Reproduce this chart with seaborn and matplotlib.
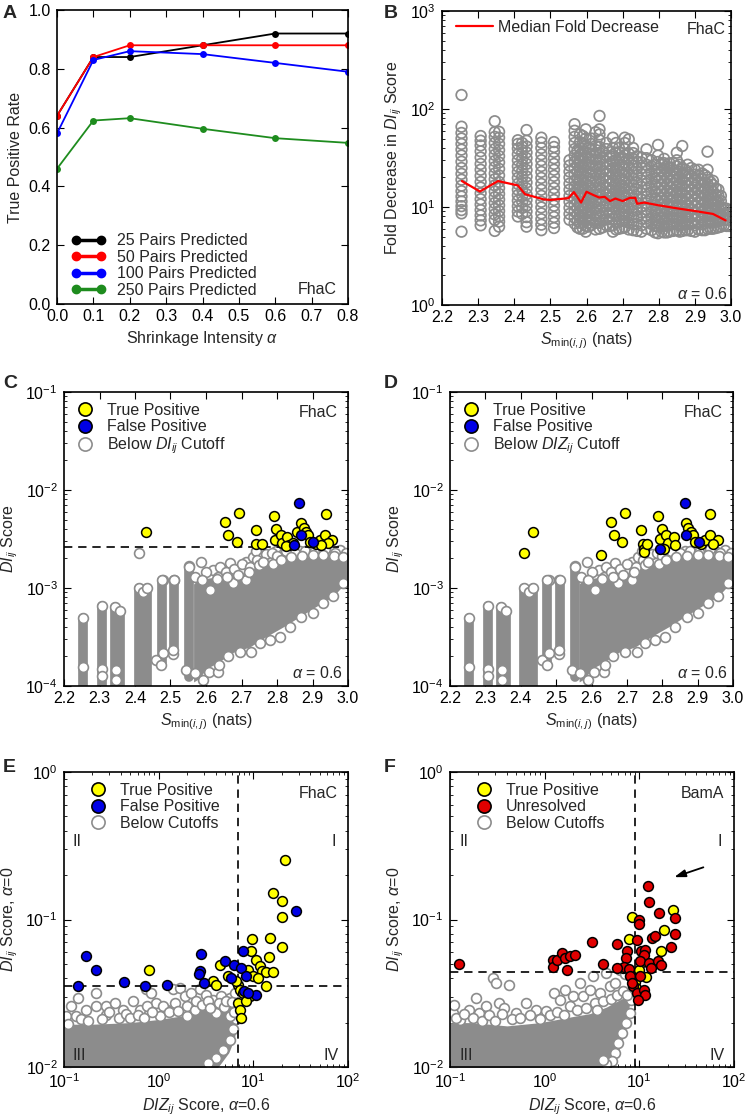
import matplotlib
matplotlib.use("Agg")
import matplotlib.pyplot as plt
import matplotlib.ticker as mticker
from matplotlib.lines import Line2D
import pandas as pd
import seaborn as sns

GRAY = "#8c8c8c"
YELLOW = "#ffff00"
BLUE = "#0000e6"
RED = "#e00000"
GREEN = "#1e8c1e"
W, H = 747, 1120

# ---- panel A: true positive rate vs shrinkage
alpha_vals = [0.0, 0.1, 0.2, 0.4, 0.6, 0.8]
tpr_25 = [0.64, 0.84, 0.84, 0.88, 0.92, 0.92]
tpr_50 = [0.64, 0.84, 0.88, 0.88, 0.88, 0.88]
tpr_100 = [0.58, 0.83, 0.86, 0.85, 0.82, 0.79]
tpr_250 = [0.46, 0.624, 0.632, 0.596, 0.564, 0.548]
a_labels = ["25 Pairs Predicted", "50 Pairs Predicted", "100 Pairs Predicted", "250 Pairs Predicted"]

# ---- panel B: fold decrease columns (one list of circles per S_min column)
b_col_x = [2.254, 2.307, 2.346, 2.358, 2.41, 2.422, 2.434, 2.475, 2.51, 2.553, 2.567, 2.582,
           2.598, 2.613, 2.636, 2.655, 2.673, 2.69, 2.706, 2.729, 2.752, 2.766, 2.78, 2.798,
           2.815, 2.83, 2.85, 2.865, 2.88, 2.9, 2.92, 2.935, 2.95, 2.965, 2.98, 2.995,
           2.575, 2.59, 2.605, 2.625, 2.645, 2.665, 2.682, 2.698, 2.717, 2.74, 2.79, 2.808,
           2.823, 2.84, 2.858, 2.873, 2.89, 2.91, 2.928, 2.943, 2.958, 2.972, 2.988]
b_col_y = [
    [5.6, 8.6, 9.3, 10.2, 11.4, 12.8, 14.5, 16.5, 19.0, 21.8, 25.0, 29.0, 33.5, 38.5, 44.0, 50.0, 57.0, 66.0, 139.0],
    [6.5, 7.3, 8.2, 9.3, 10.6, 12.0, 13.8, 15.8, 18.0, 20.8, 24.0, 27.5, 32.0, 37.0, 42.5, 47.5, 53.0],
    [5.7, 7.4, 8.4, 9.6, 11.0, 12.6, 14.4, 16.6, 19.2, 22.0, 25.5, 29.5, 34.0, 39.0, 45.0, 52.0, 58.0, 75.0],
    [6.3, 7.1, 8.0, 9.1, 10.4, 11.9, 13.6, 15.6, 18.0, 21.0, 24.5, 28.5, 33.0, 38.0, 44.0, 51.0, 58.5],
    [8.0, 9.0, 10.2, 11.6, 13.2, 15.0, 17.2, 19.8, 22.8, 26.0, 30.0, 34.5, 39.5, 44.0, 48.0],
    [8.5, 9.8, 11.3, 13.0, 15.0, 17.5, 20.3, 23.5, 27.0, 31.0, 36.0, 41.0, 45.0],
    [6.3, 7.0, 7.9, 9.0, 10.3, 11.8, 13.5, 15.5, 17.8, 20.5, 23.8, 27.5, 31.5, 36.0, 41.5, 47.5, 61.0],
    [5.8, 6.6, 7.5, 8.6, 9.9, 11.3, 13.0, 15.0, 17.2, 19.8, 22.8, 26.2, 30.0, 34.5, 40.0, 45.5, 51.0],
    [6.1, 6.9, 7.9, 9.0, 10.3, 11.8, 13.6, 15.6, 18.0, 20.8, 24.0, 27.5, 31.5, 36.5, 41.0, 46.0],
    [7.4, 8.5, 9.8, 11.3, 13.0, 15.0, 17.3, 20.0, 23.0, 26.5, 30.0],
    [6.8, 7.8, 9.0, 10.4, 12.0, 13.8, 16.0, 18.5, 21.5, 25.0, 29.0, 33.5, 39.0, 45.0, 52.0, 60.0, 70.0],
    [6.0, 6.9, 8.0, 9.2, 10.6, 12.3, 14.2, 16.4, 19.0, 22.0, 25.5, 29.5, 34.0, 39.5, 46.0, 55.0],
    [5.6, 6.4, 7.4, 8.5, 9.8, 11.3, 13.0, 15.0, 17.4, 20.2, 23.5, 27.3, 31.5, 36.5, 42.5, 50.0, 62.0],
    [6.5, 7.5, 8.7, 10.0, 11.6, 13.4, 15.5, 18.0, 21.0, 24.5, 28.5, 33.0, 38.5, 44.0, 50.0],
    [6.0, 6.9, 8.0, 9.3, 10.8, 12.5, 14.5, 16.8, 19.5, 22.6, 26.2, 30.5, 35.5, 41.0, 48.0, 55.0, 62.0, 85.0],
    [6.5, 7.5, 8.7, 10.1, 11.7, 13.6, 15.8, 18.4, 21.4, 25.0, 29.0, 33.5, 39.0, 45.0],
    [5.6, 6.5, 7.5, 8.7, 10.1, 11.7, 13.6, 15.8, 18.4, 21.4, 25.0, 29.0, 34.0, 40.0, 51.0],
    [6.0, 7.0, 8.1, 9.4, 10.9, 12.7, 14.8, 17.2, 20.0, 23.3, 27.0, 31.5, 36.0, 40.0],
    [6.2, 7.2, 8.4, 9.8, 11.4, 13.3, 15.5, 18.0, 21.0, 24.5, 28.5, 33.5, 39.0, 45.0, 51.0],
    [5.8, 6.7, 7.8, 9.1, 10.6, 12.3, 14.3, 16.7, 19.5, 22.7, 26.5, 31.0, 35.5, 40.0],
    [5.6, 6.5, 7.6, 8.8, 10.2, 11.9, 13.8, 16.0, 18.6, 21.6, 25.0, 28.5, 32.0],
    [6.0, 7.0, 8.1, 9.4, 10.9, 12.7, 14.8, 17.2, 20.0, 23.3, 27.0, 31.5, 38.8],
    [5.8, 6.7, 7.8, 9.0, 10.5, 12.2, 14.2, 16.5, 19.2, 22.3, 26.0, 30.0],
    [5.4, 6.3, 7.3, 8.5, 9.9, 11.5, 13.4, 15.6, 18.2, 21.2, 24.7, 28.8, 33.5, 43.0],
    [5.5, 6.4, 7.4, 8.6, 10.0, 11.6, 13.5, 15.7, 18.3, 21.3, 24.8, 28.0, 31.0],
    [5.6, 6.5, 7.5, 8.7, 10.1, 11.7, 13.6, 15.8, 18.4, 21.4, 24.9, 28.0],
    [5.8, 6.7, 7.8, 9.0, 10.5, 12.2, 14.2, 16.5, 19.2, 22.3, 26.0, 30.0, 35.8],
    [5.7, 6.6, 7.7, 8.9, 10.3, 12.0, 14.0, 16.2, 18.8, 21.9, 25.0, 41.9],
    [5.8, 6.7, 7.8, 9.0, 10.5, 12.2, 14.2, 16.5, 19.2, 22.3, 27.0],
    [5.6, 6.5, 7.5, 8.7, 10.1, 11.7, 13.6, 15.8, 18.4, 21.4, 24.0],
    [5.8, 6.7, 7.8, 9.0, 10.5, 12.2, 14.2, 16.5, 19.2, 22.0],
    [6.0, 7.0, 8.1, 9.4, 10.9, 12.7, 14.8, 17.2, 20.0, 24.0, 36.7],
    [6.0, 6.9, 8.0, 9.3, 10.8, 12.5, 14.5, 16.8, 18.5],
    [6.2, 7.2, 8.4, 9.7, 11.2, 13.0, 15.0],
    [6.5, 7.4, 8.5, 9.7],
    [6.4, 7.3, 8.3, 9.2],
    [6.2, 7.2, 8.4, 9.8, 11.5, 13.5, 16.0, 19.0, 22.5, 27.0, 32.0, 38.0],
    [6.0, 7.0, 8.2, 9.6, 11.3, 13.3, 15.7, 18.5, 22.0, 26.0, 31.0, 37.0, 44.0, 53.0],
    [6.3, 7.4, 8.7, 10.2, 12.0, 14.1, 16.6, 19.6, 23.1, 27.2, 32.0, 40.0],
    [5.9, 6.9, 8.1, 9.5, 11.2, 13.2, 15.6, 18.4, 21.7, 25.6, 30.2, 35.6, 42.0, 58.0],
    [6.2, 7.3, 8.6, 10.1, 11.9, 14.0, 16.5, 19.4, 22.9, 27.0, 31.8, 37.0],
    [6.4, 7.5, 8.8, 10.4, 12.2, 14.4, 17.0, 20.0, 23.6, 27.8, 33.0],
    [5.9, 6.9, 8.1, 9.5, 11.2, 13.2, 15.5, 18.3, 21.6, 25.4, 30.0, 36.0, 45.0],
    [6.1, 7.2, 8.5, 10.0, 11.8, 13.9, 16.4, 19.3, 22.8, 26.9, 32.0],
    [5.9, 6.9, 8.1, 9.5, 11.2, 13.2, 15.5, 18.3, 21.6, 25.4, 30.0, 35.0, 49.0],
    [5.7, 6.7, 7.9, 9.3, 10.9, 12.8, 15.1, 17.8, 21.0, 24.7, 29.0, 33.0],
    [5.5, 6.4, 7.5, 8.8, 10.3, 12.1, 14.2, 16.7, 19.6, 23.0, 27.0],
    [5.6, 6.6, 7.7, 9.0, 10.6, 12.4, 14.6, 17.1, 20.1, 23.6, 27.5],
    [5.5, 6.5, 7.6, 8.9, 10.4, 12.2, 14.3, 16.8, 19.7, 23.0, 26.0],
    [5.7, 6.7, 7.8, 9.2, 10.8, 12.7, 14.9, 17.5, 20.5, 24.0, 28.0],
    [5.6, 6.5, 7.6, 8.9, 10.4, 12.2, 14.3, 16.8, 19.7, 23.0, 27.0],
    [5.8, 6.8, 8.0, 9.4, 11.0, 12.9, 15.1, 17.7, 20.8, 24.0],
    [5.7, 6.7, 7.9, 9.3, 10.9, 12.8, 15.0, 17.6, 20.6, 25.0],
    [5.9, 6.9, 8.1, 9.5, 11.2, 13.1, 15.4, 18.0, 21.0, 24.0],
    [5.8, 6.8, 8.0, 9.4, 11.0, 12.9, 15.1, 17.7, 21.0],
    [6.0, 7.0, 8.2, 9.6, 11.3, 13.2, 15.5, 18.0],
    [6.1, 7.1, 8.3, 9.7, 11.4, 13.3, 15.5],
    [6.3, 7.3, 8.5, 9.9, 11.5, 13.0],
    [6.4, 7.4, 8.6, 9.6],
]
b_med_x = [2.255, 2.305, 2.355, 2.41, 2.43, 2.48, 2.5, 2.55, 2.565, 2.585, 2.6, 2.62, 2.635,
           2.65, 2.665, 2.68, 2.7, 2.72, 2.735, 2.74, 2.76, 2.8, 2.85, 2.9, 2.95, 2.985]
b_med_y = [18.4, 14.4, 18.4, 16.6, 13.5, 12.0, 11.8, 12.3, 14.2, 11.1, 14.3, 13.2, 12.5,
           12.7, 11.5, 12.2, 11.5, 12.4, 12.4, 10.8, 11.1, 10.4, 9.7, 9.1, 8.5, 7.3]

# ---- panels C/D: DI score vs S_min, gray cloud shared
cd_strip_x = [2.254, 2.307, 2.345, 2.358, 2.41, 2.422, 2.435, 2.475, 2.51, 2.553]
cd_strip_lo = [8e-5, 8e-5, 8e-5, 8e-5, 8e-5, 8e-5, 8e-5, 1.7e-4, 2.1e-4, 1.25e-4]
cd_strip_hi = [5.0e-4, 6.5e-4, 6.4e-4, 5.8e-4, 1.0e-3, 9.0e-4, 1.0e-3, 1.2e-3, 1.2e-3, 1.65e-3]
cd_dense_x = [2.565, 2.582, 2.60, 2.63, 2.676, 2.723, 2.77, 2.817, 2.864, 2.911, 2.958, 3.0]
cd_dense_lo = [1.1e-4, 1.2e-4, 1.5e-4, 1.7e-4, 2.2e-4, 2.5e-4, 3.2e-4, 4.0e-4, 5.1e-4, 6.5e-4, 8.2e-4, 1.2e-3]
cd_dense_hi = [1.1e-3, 1.25e-3, 1.25e-3, 1.3e-3, 1.4e-3, 1.6e-3, 1.8e-3, 1.95e-3, 2.05e-3, 2.1e-3, 2.1e-3, 2.0e-3]
cd_gray = [(2.479, 1.21e-3), (2.509, 1.21e-3), (2.552, 1.66e-3), (2.587, 1.84e-3), (2.620, 1.53e-3),
           (2.634, 1.31e-3), (2.667, 1.80e-3), (2.695, 1.53e-3), (2.714, 1.86e-3), (2.732, 2.09e-3),
           (2.742, 2.36e-3), (2.761, 2.09e-3), (2.779, 1.94e-3), (2.798, 2.36e-3), (2.817, 2.23e-3),
           (2.836, 2.45e-3), (2.864, 2.36e-3), (2.892, 2.50e-3), (2.920, 2.45e-3), (2.948, 2.36e-3),
           (2.977, 2.45e-3), (2.995, 2.26e-3), (2.676, 1.12e-3), (2.610, 9.6e-4), (2.714, 1.21e-3),
           (2.60, 1.45e-3), (2.64, 1.65e-3), (2.655, 1.45e-3), (2.68, 1.55e-3), (2.70, 1.75e-3),
           (2.725, 1.65e-3), (2.745, 1.95e-3), (2.75, 1.7e-3), (2.77, 2.2e-3), (2.785, 2.3e-3),
           (2.80, 2.1e-3), (2.825, 2.4e-3), (2.85, 2.3e-3), (2.878, 2.4e-3), (2.905, 2.35e-3),
           (2.935, 2.5e-3), (2.962, 2.3e-3), (2.57, 1.3e-3), (2.59, 1.2e-3), (2.63, 1.25e-3),
           (2.66, 1.3e-3), (2.69, 1.35e-3), (2.72, 1.45e-3), (2.76, 1.85e-3), (2.79, 1.75e-3),
           (2.81, 1.95e-3), (2.84, 2.05e-3), (2.87, 2.1e-3), (2.90, 2.15e-3), (2.93, 2.15e-3),
           (2.96, 2.1e-3), (2.985, 2.05e-3),
           (2.460, 1.85e-4), (2.474, 1.64e-4), (2.507, 2.1e-4), (2.545, 1.46e-4), (2.568, 1.36e-4),
           (2.591, 1.15e-4), (2.608, 1.4e-4), (2.634, 1.4e-4), (2.638, 1.64e-4), (2.662, 2.0e-4),
           (2.695, 2.24e-4), (2.728, 2.24e-4), (2.751, 2.73e-4), (2.779, 2.95e-4), (2.808, 3.19e-4),
           (2.836, 4.04e-4), (2.869, 5.11e-4), (2.902, 5.53e-4), (2.930, 7.0e-4), (2.958, 8.2e-4),
           (2.986, 1.12e-3), (2.254, 1.58e-4), (2.308, 1.5e-4), (2.308, 1.26e-4), (2.347, 1.46e-4),
           (2.347, 1.15e-4), (2.479, 2.17e-4), (2.507, 2.33e-4)]
c_gray_extra = [(2.412, 2.26e-3)]
c_cutoff = 2.63e-3
c_tp = [(2.432, 3.74e-3), (2.654, 4.70e-3), (2.663, 3.46e-3), (2.693, 5.85e-3), (2.686, 2.94e-3),
        (2.741, 3.89e-3), (2.740, 2.80e-3), (2.758, 2.80e-3), (2.792, 5.41e-3), (2.797, 3.99e-3),
        (2.794, 3.08e-3), (2.810, 3.46e-3), (2.814, 2.91e-3), (2.829, 3.35e-3), (2.833, 2.76e-3),
        (2.857, 3.77e-3), (2.869, 4.62e-3), (2.875, 4.11e-3), (2.883, 3.77e-3), (2.887, 3.46e-3),
        (2.892, 2.94e-3), (2.909, 2.80e-3), (2.920, 3.10e-3), (2.934, 3.44e-3), (2.937, 5.63e-3),
        (2.955, 3.10e-3), (2.944, 2.85e-3), (2.923, 2.76e-3), (2.845, 2.85e-3), (2.826, 2.70e-3)]
c_fp = [(2.862, 7.29e-3), (2.869, 3.46e-3), (2.847, 2.76e-3), (2.901, 2.92e-3)]
d_tp = [(2.410, 2.27e-3), (2.434, 3.74e-3), (2.627, 2.15e-3), (2.654, 4.70e-3), (2.664, 3.46e-3),
        (2.686, 2.94e-3), (2.696, 5.85e-3), (2.741, 3.89e-3), (2.745, 2.80e-3), (2.747, 2.49e-3),
        (2.747, 2.34e-3), (2.756, 2.83e-3), (2.788, 5.41e-3), (2.798, 3.99e-3), (2.795, 3.13e-3),
        (2.810, 3.46e-3), (2.817, 2.91e-3), (2.833, 3.35e-3), (2.837, 2.76e-3), (2.868, 4.62e-3),
        (2.873, 4.11e-3), (2.882, 3.77e-3), (2.887, 3.46e-3), (2.892, 2.94e-3), (2.909, 2.80e-3),
        (2.921, 3.10e-3), (2.934, 3.44e-3), (2.936, 5.63e-3), (2.957, 3.10e-3), (2.943, 2.80e-3),
        (2.804, 2.49e-3)]
d_fp = [(2.863, 7.29e-3), (2.868, 3.46e-3), (2.794, 2.49e-3), (2.903, 2.92e-3)]

# ---- panel E: FhaC DI (alpha=0) vs DIZ (alpha=0.6)
e_dense_x = [0.1, 0.2, 0.5, 1.0, 2.0, 3.0, 3.7, 4.5, 5.5, 6.3, 6.8]
e_dense_lo = [0.009, 0.009, 0.009, 0.009, 0.009, 0.009, 0.009, 0.0105, 0.0125, 0.0155, 0.021]
e_dense_hi = [0.0195, 0.0195, 0.020, 0.021, 0.0225, 0.025, 0.026, 0.027, 0.027, 0.027, 0.025]
e_gray = [(0.106, 0.0221), (0.120, 0.0258), (0.140, 0.0294), (0.135, 0.0221), (0.172, 0.0245),
          (0.219, 0.0318), (0.219, 0.0258), (0.280, 0.0258), (0.280, 0.0226), (0.343, 0.0272),
          (0.420, 0.0245), (0.535, 0.0279), (0.630, 0.0245), (0.728, 0.0338), (0.834, 0.0318),
          (0.944, 0.0272), (1.21, 0.0245), (1.42, 0.0336), (1.66, 0.0343), (1.88, 0.0302),
          (2.22, 0.0318), (2.72, 0.0336), (3.19, 0.0309), (3.77, 0.0286), (4.60, 0.0302),
          (5.62, 0.0294), (6.40, 0.0318), (6.67, 0.0258), (6.60, 0.0210), (6.07, 0.0180),
          (5.62, 0.0153), (4.78, 0.0131), (4.05, 0.0115), (3.31, 0.0106), (1.97, 0.0221),
          (1.03, 0.0221), (4.05, 0.0232), (5.62, 0.0221),
          (0.11, 0.0195), (0.15, 0.021), (0.18, 0.0205), (0.25, 0.021), (0.3, 0.0235), (0.38, 0.0215),
          (0.45, 0.023), (0.5, 0.0215), (0.6, 0.0225), (0.7, 0.0215), (0.75, 0.026), (0.85, 0.0235),
          (1.1, 0.026), (1.3, 0.0235), (1.5, 0.027), (1.6, 0.024), (2.0, 0.026), (2.4, 0.0245),
          (2.5, 0.028), (2.9, 0.0265), (3.3, 0.028), (3.5, 0.025), (4.3, 0.027), (4.9, 0.0255),
          (5.2, 0.028), (6.0, 0.0275), (6.3, 0.0235)]
e_tp = [(21.8, 0.252), (16.3, 0.151), (20.3, 0.1327), (20.1, 0.1033), (20.1, 0.0651), (9.68, 0.0738),
        (14.9, 0.0749), (9.54, 0.0614), (14.5, 0.0557), (4.41, 0.0494), (10.8, 0.0534), (11.7, 0.0481),
        (8.79, 0.0457), (12.2, 0.0445), (13.7, 0.0438), (16.1, 0.0438), (9.92, 0.0411), (11.2, 0.0401),
        (3.75, 0.038), (4.07, 0.0361), (6.89, 0.0361), (13.5, 0.0356), (5.40, 0.0411), (6.62, 0.038),
        (7.18, 0.0334), (7.78, 0.0318), (9.16, 0.0301), (6.89, 0.0272), (8.45, 0.0279), (7.18, 0.0245),
        (7.48, 0.0215), (0.791, 0.0452)]
e_fp = [(28.5, 0.1148), (2.83, 0.0586), (7.78, 0.0608), (5.07, 0.052), (6.25, 0.0494), (7.35, 0.0469),
        (2.71, 0.0445), (2.65, 0.043), (3.01, 0.0371), (5.77, 0.0401), (8.45, 0.0411), (7.91, 0.0329),
        (10.8, 0.0306), (8.79, 0.0318), (0.142, 0.0352), (0.172, 0.0563), (0.216, 0.0452),
        (0.427, 0.0377), (0.717, 0.0354), (1.22, 0.0357)]
e_cut_x, e_cut_y = 6.89, 0.0352

# ---- panel F: BamA
f_dense_x = [0.1, 0.17, 0.4, 0.9, 2.0, 3.0, 4.5, 5.3, 6.2, 7.2, 7.9]
f_dense_lo = [0.009, 0.009, 0.009, 0.009, 0.009, 0.009, 0.009, 0.0105, 0.0135, 0.018, 0.027]
f_dense_hi = [0.020, 0.020, 0.019, 0.020, 0.022, 0.023, 0.0255, 0.027, 0.0285, 0.030, 0.031]
f_gray = [(0.107, 0.0232), (0.111, 0.0265), (0.126, 0.0209), (0.160, 0.0245), (0.188, 0.0294),
          (0.204, 0.0232), (0.240, 0.0258), (0.283, 0.0401), (0.307, 0.0371), (0.333, 0.0272),
          (0.376, 0.0251), (0.425, 0.0360), (0.50, 0.0232), (0.636, 0.0272), (0.81, 0.0245),
          (1.04, 0.0238), (1.27, 0.0318), (1.44, 0.0286), (1.62, 0.0334), (1.84, 0.0258),
          (1.99, 0.0302), (2.34, 0.0372), (2.54, 0.0302), (2.98, 0.0334), (3.24, 0.0412),
          (3.81, 0.0318), (4.48, 0.0434), (4.86, 0.0352), (5.5, 0.0371), (6.2, 0.0457),
          (7.0, 0.0425), (7.9, 0.0412), (8.6, 0.0334), (8.2, 0.0286), (7.9, 0.0232), (7.3, 0.0199),
          (6.5, 0.0170), (6.0, 0.0145), (5.5, 0.0124), (5.1, 0.0109), (4.48, 0.0104), (4.1, 0.0112),
          (0.115, 0.0215), (0.14, 0.023), (0.175, 0.0215), (0.22, 0.0205), (0.26, 0.0225), (0.3, 0.0205),
          (0.35, 0.023), (0.45, 0.021), (0.55, 0.0215), (0.7, 0.0225), (0.9, 0.021), (1.15, 0.0225),
          (1.35, 0.0235), (1.6, 0.0225), (2.2, 0.0245), (2.7, 0.025), (3.4, 0.027), (3.6, 0.0245),
          (4.1, 0.028), (5.0, 0.029), (5.8, 0.031), (6.7, 0.033), (7.4, 0.031)]
f_unres = [(12.3, 0.1695), (12.6, 0.1306), (16.2, 0.1107), (10.0, 0.0997), (10.0, 0.0932), (23.9, 0.102),
           (23.9, 0.0797), (21.6, 0.0651), (13.6, 0.0749), (14.7, 0.0768), (5.87, 0.0686), (9.42, 0.073),
           (3.14, 0.070), (7.38, 0.0608), (7.25, 0.0548), (6.96, 0.0473), (4.11, 0.0499), (5.87, 0.0469),
           (10.4, 0.0608), (11.5, 0.0624), (11.1, 0.0577), (10.2, 0.052), (12.5, 0.0507), (15.9, 0.052),
           (16.9, 0.0494), (13.2, 0.0469), (7.85, 0.0462), (8.0, 0.0416), (10.2, 0.0411), (8.67, 0.0352),
           (9.42, 0.0318), (11.1, 0.0334), (11.5, 0.0309), (9.64, 0.0286), (8.33, 0.0371), (0.123, 0.0499),
           (1.22, 0.0534), (1.22, 0.0474), (1.36, 0.0534), (1.53, 0.0593), (1.62, 0.0548), (1.87, 0.0563),
           (2.11, 0.0572), (1.73, 0.0457)]
f_tp = [(8.33, 0.1033), (7.80, 0.0741), (18.3, 0.0853), (17.0, 0.0614), (22.6, 0.1153), (10.8, 0.0512),
        (6.69, 0.0469), (10.0, 0.0457), (11.8, 0.0408), (9.03, 0.0375), (9.18, 0.0343)]
f_cut_x, f_cut_y = 8.95, 0.0441
f_arrow_tail, f_arrow_head = (50.6, 0.229), (21.9, 0.191)

sns.set_style("ticks")
plt.rcParams.update({
    "font.family": ["Liberation Sans", "DejaVu Sans"],
    "mathtext.fontset": "custom",
    "mathtext.rm": "Liberation Sans",
    "mathtext.it": "Liberation Sans:italic",
    "font.size": 11,
    "axes.labelsize": 11.5,
    "xtick.labelsize": 11.5,
    "ytick.labelsize": 11.5,
    "axes.edgecolor": "black",
    "axes.linewidth": 1.2,
    "xtick.direction": "in",
    "ytick.direction": "in",
    "xtick.top": True,
    "ytick.right": True,
    "xtick.major.size": 5,
    "ytick.major.size": 5,
    "xtick.minor.size": 2.5,
    "ytick.minor.size": 2.5,
    "xtick.color": "black",
    "ytick.color": "black",
    "ytick.major.pad": 4.5,
})

ALPHA = r"$\mathit{\alpha}$"
DI = r"$\mathit{DI}_{ij}$"
DIZ = r"$\mathit{DIZ}_{ij}$"
SMIN = r"$\mathit{S}_{\mathrm{min}(\mathit{i,j})}$ (nats)"


def px_axes(fig, left, top, right, bottom):
    return fig.add_axes([left / W, 1 - bottom / H, (right - left) / W, (bottom - top) / H])


def corner(ax, s, corner_xy, dx, dy, ha):
    ax.annotate(s, xy=corner_xy, xycoords="axes fraction", xytext=(dx, dy),
                textcoords="offset pixels", ha=ha, va="center", fontsize=11.5)


def pts_df(pairs):
    return pd.DataFrame(pairs, columns=["x", "y"])


def dots(ax, pairs, face, edge, z, lw=1.1, s=50):
    sns.scatterplot(data=pts_df(pairs), x="x", y="y", s=s, facecolor=face, edgecolor=edge,
                    linewidth=lw, zorder=z, legend=False, ax=ax)


def marker_legend(ax, entries, dx, dy):
    handles = [Line2D([], [], ls="", marker="o", markersize=9.5, markerfacecolor=fc,
                      markeredgecolor=ec, markeredgewidth=1.2) for fc, ec, _ in entries]
    ax.legend(handles, [lab for _, _, lab in entries], loc="upper left",
              bbox_to_anchor=(dx / ax.bbox.width, 1 - dy / ax.bbox.height), frameon=False,
              borderpad=0, borderaxespad=0, handlelength=1.0, handletextpad=0.85,
              labelspacing=0.08, fontsize=11.5)


def panel_letter(fig, s, x, y):
    fig.text(x / W, 1 - y / H, s, fontsize=14, fontweight="bold", ha="left", va="center")


def log_minor(ax, which="y"):
    if which in ("y", "both"):
        ax.yaxis.set_minor_locator(mticker.LogLocator(base=10, subs=range(2, 10), numticks=20))
    if which in ("x", "both"):
        ax.xaxis.set_minor_locator(mticker.LogLocator(base=10, subs=range(2, 10), numticks=20))
    ax.tick_params(which="minor", direction="in", top=True, right=True)


fig = plt.figure(figsize=(W / 100, H / 100), dpi=100)

# ---------------- A
ax = px_axes(fig, 57, 10, 348, 304)
a_df = pd.DataFrame({
    "alpha": alpha_vals * 4,
    "tpr": tpr_25 + tpr_50 + tpr_100 + tpr_250,
    "series": [lab for lab in a_labels for _ in alpha_vals],
})
a_colors = dict(zip(a_labels, ["black", "red", "blue", GREEN]))
sns.lineplot(data=a_df, x="alpha", y="tpr", hue="series", palette=a_colors, marker="o",
             markersize=5, markeredgewidth=0, linewidth=1.3, legend=False, ax=ax)
ax.set_xlim(0, 0.8)
ax.set_ylim(0, 1.0)
ax.xaxis.set_major_locator(mticker.MultipleLocator(0.1))
ax.yaxis.set_major_locator(mticker.MultipleLocator(0.2))
ax.xaxis.set_major_formatter(mticker.FormatStrFormatter("%.1f"))
ax.yaxis.set_major_formatter(mticker.FormatStrFormatter("%.1f"))
ax.set_xlabel("Shrinkage Intensity " + ALPHA)
ax.set_ylabel("True Positive Rate")
a_handles = [Line2D([], [], color=c, lw=2.5, marker="o", markersize=6) for c in a_colors.values()]
ax.legend(a_handles, a_labels, loc="lower left", numpoints=2, frameon=False,
          bbox_to_anchor=(14 / ax.bbox.width, 6 / ax.bbox.height), borderpad=0,
          borderaxespad=0, handlelength=2.15, handletextpad=0.7, labelspacing=0.1, fontsize=11.5)
corner(ax, "FhaC", (1, 0), -11, 14, "right")
panel_letter(fig, "A", 3, 13)

# ---------------- B
ax = px_axes(fig, 442, 11, 731, 305)
ax.set_yscale("log")
b_df = pd.DataFrame({
    "x": [x for x, ys in zip(b_col_x, b_col_y) for _ in ys],
    "y": [y for ys in b_col_y for y in ys],
})
sns.scatterplot(data=b_df, x="x", y="y", s=58, facecolor="none", edgecolor=GRAY,
                linewidth=1.25, legend=False, ax=ax, zorder=2)
sns.lineplot(x=b_med_x, y=b_med_y, color="red", linewidth=1.6, ax=ax, zorder=3,
             label="Median Fold Decrease")
ax.set_xlim(2.2, 3.0)
ax.set_ylim(1, 1000)
ax.xaxis.set_major_locator(mticker.MultipleLocator(0.1))
ax.xaxis.set_major_formatter(mticker.FormatStrFormatter("%.1f"))
log_minor(ax)
ax.set_xlabel(SMIN)
ax.set_ylabel("Fold Decrease in " + DI + " Score")
ax.legend(loc="upper left", frameon=False, bbox_to_anchor=(14 / ax.bbox.width, 1 - 9 / ax.bbox.height),
          borderpad=0, borderaxespad=0, handlelength=2.3, handletextpad=0.3, fontsize=11.5)
corner(ax, "FhaC", (1, 1), -5, -18, "right")
corner(ax, ALPHA + " = 0.6", (1, 0), -3, 11, "right")
panel_letter(fig, "B", 384, 13)


# ---------------- C / D
def draw_smin_panel(ax, tp, fp, extra_gray, cutoff, gray_label):
    ax.set_yscale("log")
    ax.fill_between(cd_dense_x, cd_dense_lo, cd_dense_hi, color=GRAY, lw=0, zorder=1)
    strips = ax.vlines(cd_strip_x, cd_strip_lo, cd_strip_hi, color=GRAY, lw=7, zorder=1)
    strips.set_capstyle("round")
    dots(ax, cd_gray + extra_gray + list(zip(cd_strip_x, cd_strip_hi)), "white", GRAY, 2, lw=1.2)
    if cutoff is not None:
        ax.axhline(cutoff, xmax=0.97, color="black", lw=1.2, ls=(0, (5, 3.5)), zorder=2.5)
    dots(ax, tp, YELLOW, "black", 3)
    dots(ax, fp, BLUE, "black", 3.5)
    ax.set_xlim(2.2, 3.0)
    ax.set_ylim(1e-4, 1e-1)
    ax.xaxis.set_major_locator(mticker.MultipleLocator(0.1))
    ax.xaxis.set_major_formatter(mticker.FormatStrFormatter("%.1f"))
    log_minor(ax)
    ax.set_xlabel(SMIN)
    ax.set_ylabel(DI + " Score")
    marker_legend(ax, [(YELLOW, "black", "True Positive"), (BLUE, "black", "False Positive"),
                       ("white", GRAY, gray_label)], 13, 11)
    corner(ax, "FhaC", (1, 1), -10, -20, "right")
    corner(ax, ALPHA + " = 0.6", (1, 0), -5, 13, "right")


ax = px_axes(fig, 64, 392, 348, 686)
draw_smin_panel(ax, c_tp, c_fp, c_gray_extra, c_cutoff, "Below " + DI + " Cutoff")
panel_letter(fig, "C", 3, 383)
ax = px_axes(fig, 450, 392, 733, 686)
draw_smin_panel(ax, d_tp, d_fp, [], None, "Below " + DIZ + " Cutoff")
panel_letter(fig, "D", 384, 383)


# ---------------- E / F
def draw_quad_panel(ax, dense, gray, groups, cut_x, cut_y, labels, tag):
    ax.set_xscale("log")
    ax.set_yscale("log")
    ax.fill_between(dense[0], dense[1], dense[2], color=GRAY, lw=0, zorder=1)
    dots(ax, gray, "white", GRAY, 2, lw=1.2)
    ax.axvline(cut_x, color="black", lw=1.2, ls=(0, (5, 3.5)), zorder=2.5)
    ax.axhline(cut_y, color="black", lw=1.2, ls=(0, (5, 3.5)), zorder=2.5)
    for i, (pairs, color) in enumerate(groups):
        dots(ax, pairs, color, "black", 3 + i * 0.5)
    ax.set_xlim(0.1, 100)
    ax.set_ylim(0.01, 1)
    log_minor(ax, "both")
    ax.set_xlabel(DIZ + " Score, " + ALPHA + "=0.6")
    ax.set_ylabel(DI + " Score, " + ALPHA + "=0")
    marker_legend(ax, [(groups[0][1], "black", labels[0]), (groups[1][1], "black", labels[1]),
                       ("white", GRAY, labels[2])], 26, 11)
    corner(ax, tag, (1, 1), -10, -21, "right")
    corner(ax, "II", (0, 1), 9, -70, "left")
    corner(ax, "I", (1, 1), -12, -70, "right")
    corner(ax, "III", (0, 0), 9, 12, "left")
    corner(ax, "IV", (1, 0), -9, 12, "right")


ax = px_axes(fig, 64, 772, 348, 1067)
draw_quad_panel(ax, (e_dense_x, e_dense_lo, e_dense_hi), e_gray, [(e_tp, YELLOW), (e_fp, BLUE)],
                e_cut_x, e_cut_y, ["True Positive", "False Positive", "Below Cutoffs"], "FhaC")
panel_letter(fig, "E", 3, 767)
ax = px_axes(fig, 450, 772, 734, 1067)
draw_quad_panel(ax, (f_dense_x, f_dense_lo, f_dense_hi), f_gray, [(f_tp, YELLOW), (f_unres, RED)],
                f_cut_x, f_cut_y, ["True Positive", "Unresolved", "Below Cutoffs"], "BamA")
ax.annotate("", xy=f_arrow_head, xytext=f_arrow_tail,
            arrowprops=dict(arrowstyle="-|>,head_length=0.6,head_width=0.2", color="black", lw=1.3))
panel_letter(fig, "F", 384, 767)

fig.savefig("out.png", dpi=100)
